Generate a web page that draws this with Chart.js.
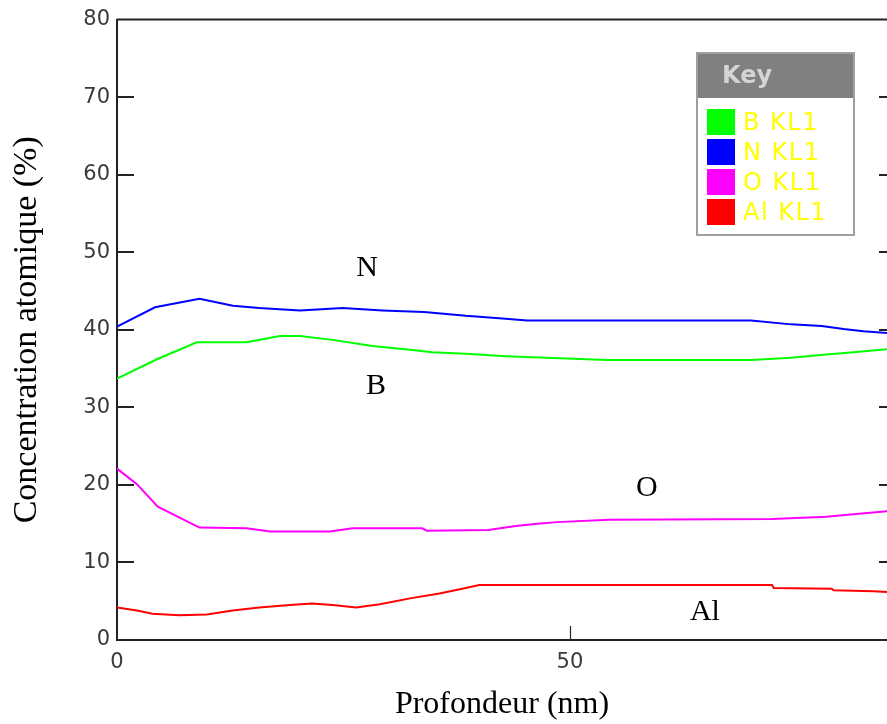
<!DOCTYPE html>
<html>
<head>
<meta charset="utf-8">
<script src="https://cdn.jsdelivr.net/npm/chart.js@4/dist/chart.umd.min.js"></script>
<style>
  html, body { margin: 0; padding: 0; background: #fff; }
  #c { display: block; }
</style>
</head>
<body>
<canvas id="c" width="887" height="724"></canvas>
<script>
// ---- Data ----
const seriesLabels = ['B KL1', 'N KL1', 'O KL1', 'Al KL1'];
const seriesColors = ['#00ff00', '#0000ff', '#ff00ff', '#ff0000'];

const depthB = [0, 4.4, 8.8, 14.3, 18.0, 20.2, 23.8, 28.2, 32.6, 34.8, 38.5, 42.9, 47.4, 54.1, 70.0, 74.4, 78.3, 81.3, 85];
const valB   = [33.7, 36.2, 38.4, 38.4, 39.2, 39.2, 38.7, 37.9, 37.4, 37.1, 36.9, 36.6, 36.4, 36.1, 36.1, 36.4, 36.8, 37.1, 37.5];

const depthN = [0, 4.2, 9.1, 12.8, 15.7, 20.2, 24.9, 29.3, 33.9, 38.5, 42.2, 45.3, 70.0, 74.4, 77.8, 80.2, 82.4, 85];
const valN   = [40.4, 42.9, 44.0, 43.1, 42.8, 42.5, 42.8, 42.5, 42.3, 41.8, 41.5, 41.2, 41.2, 40.7, 40.5, 40.1, 39.8, 39.6];

const depthO = [0, 2.2, 4.5, 9.1, 14.3, 16.9, 23.5, 26.0, 33.7, 34.2, 41.0, 44.0, 46.4, 48.6, 54.3, 72.3, 78.3, 81.3, 85];
const valO   = [22.1, 20.1, 17.2, 14.5, 14.4, 14.0, 14.0, 14.4, 14.4, 14.1, 14.2, 14.7, 15.0, 15.2, 15.5, 15.6, 15.9, 16.2, 16.6];

const depthAl = [0, 2.2, 3.9, 6.9, 9.9, 12.8, 15.7, 19.1, 21.5, 23.8, 26.4, 29.0, 32.5, 35.6, 38.5, 40.0, 60.7, 72.3, 72.5, 78.9, 79.1, 83.5, 85];
const valAl   = [4.2, 3.8, 3.4, 3.2, 3.3, 3.8, 4.2, 4.5, 4.7, 4.5, 4.2, 4.6, 5.4, 6.0, 6.7, 7.1, 7.1, 7.1, 6.7, 6.6, 6.4, 6.3, 6.2];

const yTicks = [0, 10, 20, 30, 40, 50, 60, 70, 80];
const xTicks = [0, 50];

// in-plot element labels (data coordinates)
const noteText = ['N', 'B', 'O', 'Al'];
const noteX    = [27.6, 28.6, 58.5, 64.9];
const noteY    = [47.9, 32.8, 19.6, 3.6];

const depths = [depthB, depthN, depthO, depthAl];
const values = [valB, valN, valO, valAl];

const datasets = seriesLabels.map((lab, i) => ({
  label: lab,
  data: depths[i].map((d, k) => ({ x: d, y: values[i][k] })),
  borderColor: seriesColors[i],
  backgroundColor: seriesColors[i],
  borderWidth: 2,
  pointRadius: 0,
  tension: 0,
  fill: false
}));

// Inner ticks, top frame, notes and key box
const decorPlugin = {
  id: 'decor',
  afterDatasetsDraw(chart) {
    const ctx = chart.ctx;
    const ca = chart.chartArea;
    const xs = chart.scales.x, ys = chart.scales.y;
    ctx.save();
    // top frame line
    ctx.strokeStyle = '#222';
    ctx.lineWidth = 2;
    ctx.beginPath();
    ctx.moveTo(ca.left, ca.top);
    ctx.lineTo(ca.right, ca.top);
    ctx.stroke();
    // y inward ticks left and right
    yTicks.forEach(v => {
      if (v === 0 || v === 80) return;
      const py = Math.round(ys.getPixelForValue(v));
      ctx.beginPath();
      ctx.moveTo(ca.left, py);
      ctx.lineTo(ca.left + 17, py);
      ctx.moveTo(ca.right, py);
      ctx.lineTo(ca.right - 8, py);
      ctx.stroke();
    });
    // x inward ticks
    ctx.lineWidth = 1.2;
    xTicks.forEach(v => {
      if (v === 0) return;
      const px = Math.round(xs.getPixelForValue(v)) + 0.5;
      ctx.beginPath();
      ctx.moveTo(px, ca.bottom);
      ctx.lineTo(px, ca.bottom - 14);
      ctx.stroke();
    });
    // element notes
    ctx.fillStyle = '#000';
    ctx.font = '30px "Liberation Serif", "Times New Roman", serif';
    ctx.textAlign = 'center';
    ctx.textBaseline = 'middle';
    noteText.forEach((t, i) => {
      ctx.fillText(t, xs.getPixelForValue(noteX[i]), ys.getPixelForValue(noteY[i]));
    });
    // key box
    const bx = 697, by = 53, bw = 157, bh = 182, hh = 45;
    ctx.fillStyle = '#ffffff';
    ctx.fillRect(bx, by, bw, bh);
    ctx.fillStyle = '#808080';
    ctx.fillRect(bx, by, bw, hh);
    ctx.strokeStyle = '#a0a0a0';
    ctx.lineWidth = 2;
    ctx.strokeRect(bx, by, bw, bh);
    ctx.fillStyle = '#d4d4d4';
    ctx.font = 'bold 24px "DejaVu Sans", sans-serif';
    ctx.textAlign = 'left';
    ctx.textBaseline = 'middle';
    ctx.fillText('Key', 722, by + hh / 2 + 1);
    chart.data.datasets.forEach((ds, i) => {
      const sy = 109 + i * 30;
      ctx.fillStyle = ds.borderColor;
      ctx.fillRect(707, sy, 28, 26);
      ctx.fillStyle = '#ffff00';
      ctx.font = '24px "DejaVu Sans", sans-serif';
      if ('letterSpacing' in ctx) ctx.letterSpacing = '1.5px';
      ctx.fillText(ds.label, 743, sy + 15);
      if ('letterSpacing' in ctx) ctx.letterSpacing = '0px';
    });
    ctx.restore();
  }
};

new Chart(document.getElementById('c'), {
  type: 'line',
  data: { datasets },
  options: {
    responsive: false,
    animation: false,
    devicePixelRatio: 1,
    layout: { padding: { left: 0, right: 0, top: 17, bottom: 0 } },
    plugins: { legend: { display: false }, tooltip: { enabled: false } },
    scales: {
      x: {
        type: 'linear',
        min: 0,
        max: 85,
        afterBuildTicks(s) { s.ticks = xTicks.map(v => ({ value: v })); },
        ticks: { color: '#3a3a3a', font: { family: 'DejaVu Sans', size: 21 }, padding: 10, maxRotation: 0 },
        grid: { display: false, drawTicks: false },
        border: { display: true, color: '#222', width: 2 },
        title: { display: true, text: 'Profondeur (nm)', color: '#000',
                 font: { family: 'Liberation Serif', size: 32 }, padding: { top: 0, bottom: 0 } },
        afterFit(s) { s.height = 84; }
      },
      y: {
        type: 'linear',
        min: 0,
        max: 80,
        afterBuildTicks(s) { s.ticks = yTicks.map(v => ({ value: v })); },
        ticks: { color: '#3a3a3a', font: { family: 'DejaVu Sans', size: 21 }, padding: 7 },
        grid: { display: false, drawTicks: false },
        border: { display: true, color: '#222', width: 2 },
        title: { display: true, text: 'Concentration atomique (%)', color: '#000',
                 font: { family: 'Liberation Serif', size: 34 }, padding: { top: 7, bottom: 0 } },
        afterFit(s) { s.width = 117; }
      }
    }
  },
  plugins: [decorPlugin]
});
</script>
</body>
</html>
